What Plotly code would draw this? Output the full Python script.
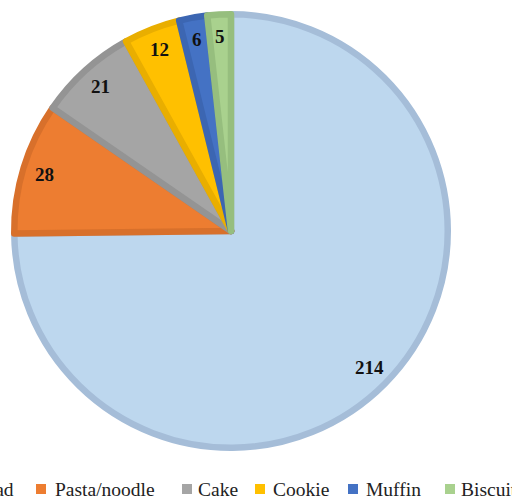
import math
import plotly.graph_objects as go

categories = ["Bread", "Pasta/noodle", "Cake", "Cookie", "Muffin", "Biscuit"]
values = [214, 28, 21, 12, 6, 5]
fill_colors = ["#BDD7EE", "#ED7D31", "#A5A5A5", "#FFC000", "#4472C4", "#A9D18E"]
edge_colors = ["#A5BDD8", "#D8702B", "#949494", "#E9AE00", "#3C66B2", "#96BE7E"]

W, H = 512, 502


def px(x):  # pixel x -> paper
    return x / W


def py(y):  # pixel y (from top) -> paper
    return 1 - y / H


cx, cy, R_out, edge_w = 231, 231, 220, 6.5
r_path = R_out - edge_w / 2

fig = go.Figure(go.Pie(
    labels=categories,
    values=values,
    sort=False,
    direction="clockwise",
    rotation=0,
    marker=dict(colors=fill_colors, line=dict(color=edge_colors, width=edge_w)),
    textinfo="none",
    showlegend=False,
    hoverinfo="label+value",
    domain=dict(x=[px(cx - r_path), px(cx + r_path)],
                y=[py(cy + r_path), py(cy - r_path)]),
))

annotations = []
shapes = []

# value labels, placed along each slice's mid-angle (clockwise from 12 o'clock)
total = sum(values)
label_r = 0.885 * R_out
cum = 0
for v in values:
    theta = 2 * math.pi * (cum + v / 2) / total
    cum += v
    lx = cx + label_r * math.sin(theta)
    ly = cy - label_r * math.cos(theta)
    annotations.append(dict(text=str(v), xref="paper", yref="paper",
                            x=px(lx), y=py(ly), xanchor="center", yanchor="middle",
                            showarrow=False,
                            font=dict(family="Liberation Serif", size=19, color="#111111",
                                      weight="bold")))

# manual legend (the reference legend is wider than the picture and cropped at both sides)
legend_square_x = [-48, 36, 182, 255, 348, 445]
legend_text_x = [16, 53, 196, 271, 364, 459]
legend_y = 489
sq = 10
for i, (cat, col) in enumerate(zip(categories, fill_colors)):
    x0 = legend_square_x[i]
    shapes.append(dict(type="rect", xref="paper", yref="paper",
                       x0=px(x0), x1=px(x0 + sq),
                       y0=py(legend_y + sq / 2), y1=py(legend_y - sq / 2),
                       fillcolor=col, line=dict(width=0)))
    annotations.append(dict(text=cat, xref="paper", yref="paper",
                            x=px(legend_text_x[i]), y=py(legend_y),
                            xanchor="right" if i == 0 else "left", yanchor="middle",
                            showarrow=False,
                            font=dict(family="Liberation Serif", size=19.5, color="#222222")))

fig.update_layout(
    width=W, height=H,
    margin=dict(l=0, r=0, t=0, b=0, autoexpand=False),
    paper_bgcolor="white", plot_bgcolor="white",
    shapes=shapes, annotations=annotations,
)

fig.write_html(
    "out.html",
    config={"displayModeBar": False},
    post_script="document.body.style.margin='0';document.body.style.overflow='hidden';",
)
